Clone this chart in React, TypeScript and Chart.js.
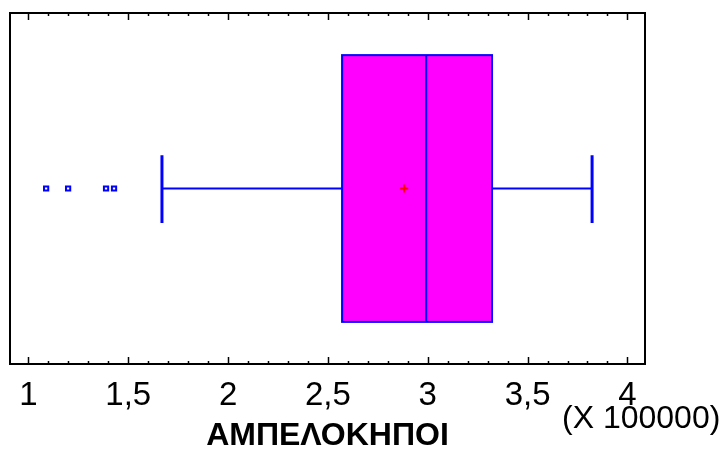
import { useEffect, useRef } from "react";
import { Chart, registerables } from "chart.js";

Chart.register(...registerables);

// ---- data (values in units of 100000) ----
const AXIS_TITLE = "ΑΜΠΕΛΟΚΗΠΟΙ";
const SCALE_NOTE = "(X 100000)";
const TICK_VALUES = [1, 1.5, 2, 2.5, 3, 3.5, 4];
const WHISKERS = [1.669, 3.823]; // low, high
const QUARTILES = [2.571, 2.992, 3.322]; // Q1, median, Q3
const MEAN = [2.882];
const OUTLIERS = [1.089, 1.199, 1.389, 1.429];

const X_MIN = 0.908;
const X_MAX = 4.088;
const FONT = "'Liberation Sans', Arial, sans-serif";

const boxPlugin = {
  id: "boxPlot",
  beforeDatasetsDraw(chart: any) {
    const { ctx } = chart;
    const x = chart.scales.x;
    const y = chart.scales.y;
    const px = (v: number) => x.getPixelForValue(v);
    const yc = y.getPixelForValue(0.5);
    const boxTop = y.getPixelForValue(0.88);
    const boxBot = y.getPixelForValue(0.12);
    const capTop = y.getPixelForValue(0.595);
    const capBot = y.getPixelForValue(0.402);
    ctx.save();
    ctx.strokeStyle = "#0000ff";
    ctx.lineWidth = 2;
    // whisker lines
    ctx.beginPath();
    ctx.moveTo(px(WHISKERS[0]), yc);
    ctx.lineTo(px(QUARTILES[0]), yc);
    ctx.moveTo(px(QUARTILES[2]), yc);
    ctx.lineTo(px(WHISKERS[1]), yc);
    ctx.stroke();
    // caps
    ctx.lineWidth = 3;
    ctx.beginPath();
    ctx.moveTo(px(WHISKERS[0]), capTop);
    ctx.lineTo(px(WHISKERS[0]), capBot);
    ctx.moveTo(px(WHISKERS[1]), capTop);
    ctx.lineTo(px(WHISKERS[1]), capBot);
    ctx.stroke();
    // box
    const l = px(QUARTILES[0]);
    const r = px(QUARTILES[2]);
    ctx.fillStyle = "#ff00ff";
    ctx.fillRect(l, boxTop, r - l, boxBot - boxTop);
    ctx.lineWidth = 2;
    ctx.strokeRect(l, boxTop, r - l, boxBot - boxTop);
    ctx.beginPath();
    ctx.moveTo(px(QUARTILES[1]), boxTop);
    ctx.lineTo(px(QUARTILES[1]), boxBot);
    ctx.stroke();
    ctx.restore();
  },
  afterDraw(chart: any) {
    const { ctx, chartArea } = chart;
    const x = chart.scales.x;
    const { left, right, top, bottom } = chartArea;
    ctx.save();
    ctx.strokeStyle = "#000";
    ctx.lineWidth = 2;
    ctx.strokeRect(left, top, right - left, bottom - top);
    ctx.lineWidth = 1.5;
    ctx.beginPath();
    for (let i = 0; i <= 30; i++) {
      const v = 1 + i * 0.1;
      const p = Math.round(x.getPixelForValue(v)) + 0.5;
      const len = i % 5 === 0 ? 7 : 3;
      ctx.moveTo(p, top);
      ctx.lineTo(p, top + len);
      ctx.moveTo(p, bottom);
      ctx.lineTo(p, bottom - len);
    }
    ctx.stroke();
    ctx.fillStyle = "#000";
    ctx.font = `32px ${FONT}`;
    ctx.textAlign = "left";
    ctx.textBaseline = "middle";
    ctx.fillText(SCALE_NOTE, 562, 419);
    ctx.restore();
  },
};

export default function App() {
  const ref = useRef<HTMLCanvasElement>(null);
  useEffect(() => {
    if (!ref.current) return;
    const chart = new Chart(ref.current, {
      type: "scatter",
      data: {
        datasets: [
          {
            label: "outliers",
            data: OUTLIERS.map((v) => ({ x: v, y: 0.5 })),
            pointStyle: "rect",
            pointRadius: 3,
            borderColor: "#0000ff",
            backgroundColor: "#ffffff",
            borderWidth: 2,
          },
          {
            label: "mean",
            data: MEAN.map((v) => ({ x: v, y: 0.5 })),
            pointStyle: "cross",
            pointRadius: 4,
            borderColor: "#ff0000",
            borderWidth: 2,
          },
        ],
      },
      plugins: [boxPlugin],
      options: {
        animation: false,
        responsive: false,
        events: [],
        layout: { padding: { left: 10, right: 76, top: 13, bottom: 0 } },
        plugins: { legend: { display: false }, tooltip: { enabled: false } },
        scales: {
          y: { display: false, min: 0, max: 1 },
          x: {
            type: "linear",
            min: X_MIN,
            max: X_MAX,
            grid: { display: false, drawTicks: false },
            border: { display: false },
            afterFit: (s: any) => {
              s.height = 85;
            },
            afterBuildTicks: (s: any) => {
              s.ticks = TICK_VALUES.map((v) => ({ value: v }));
            },
            ticks: {
              color: "#000",
              padding: 12,
              maxRotation: 0,
              autoSkip: false,
              font: { family: FONT, size: 33 },
              callback: (v: any) => String(v).replace(".", ","),
            },
            title: {
              display: true,
              text: AXIS_TITLE,
              color: "#000",
              font: { family: FONT, size: 32, weight: "bold", lineHeight: 0.8 },
              padding: { top: 0, bottom: 0 },
            },
          },
        },
      },
    });
    return () => chart.destroy();
  }, []);
  return (
    <div style={{ position: "absolute", left: 0, top: 0, width: 721, height: 449, background: "#fff" }}>
      <canvas ref={ref} width={721} height={449} style={{ width: 721, height: 449 }} />
    </div>
  );
}
